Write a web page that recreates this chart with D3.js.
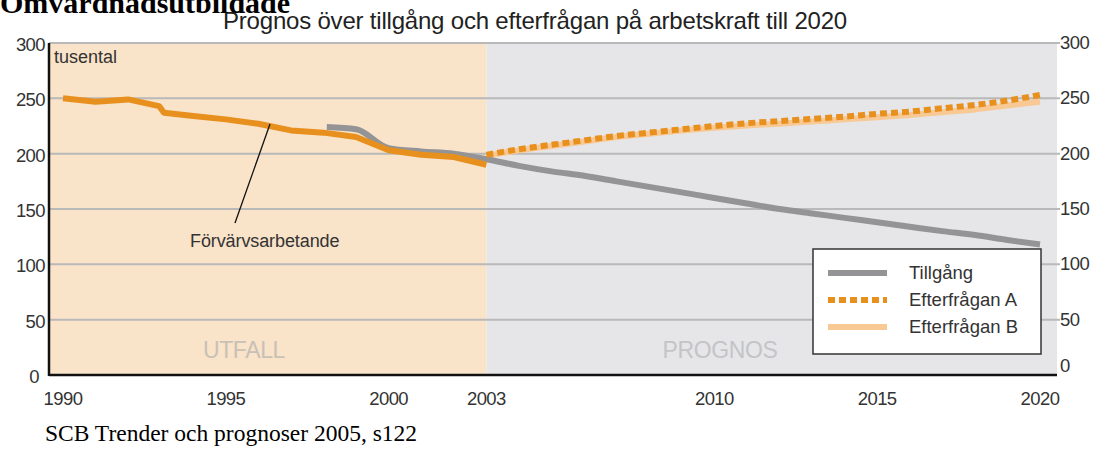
<!DOCTYPE html>
<html>
<head>
<meta charset="utf-8">
<script src="https://cdn.jsdelivr.net/npm/d3@7"></script>
<style>
  body { margin: 0; background: #fff; }
  svg { display: block; font-family: "Liberation Sans", Arial, sans-serif; }
  .serif { font-family: "Liberation Serif", "Times New Roman", serif; }
</style>
</head>
<body>
<div id="chart"></div>
<script>
// data (tusental)
const outcomeYears = [1990, 1991, 1992, 1992.95, 1993.1, 1994, 1995, 1996, 1997, 1998, 1999, 2000, 2001, 2002, 2003];
const outcomeValues = [250, 247, 249, 243, 237, 234, 231, 227, 221, 219, 215, 203, 199, 197, 190];

const supplyYears = [1998.1, 1999, 2000, 2001, 2002, 2003, 2004, 2005, 2006, 2007, 2008, 2009, 2010, 2011, 2012, 2013, 2014, 2015, 2016, 2017, 2018, 2019, 2020];
const supplyValues = [224, 222, 205, 202, 200, 195, 189, 184, 180, 175, 170, 165, 160, 155, 150, 146, 142, 138, 134, 130, 126.5, 122, 118];

const demandYears = [2003, 2004, 2005, 2006, 2007, 2008, 2009, 2010, 2011, 2012, 2013, 2014, 2015, 2016, 2017, 2018, 2019, 2020];
const demandA = [199, 204, 208, 212, 216, 219, 222, 225, 227.5, 229.5, 231.5, 233.5, 236, 238, 241, 244, 248, 253];
const demandB = [198, 203, 207, 211, 215, 218, 221, 223.5, 225.5, 227, 229, 231, 233, 235, 237.5, 240, 243.5, 247];

const xTicks = [1990, 1995, 2000, 2003, 2010, 2015, 2020];
const yTicks = [0, 50, 100, 150, 200, 250, 300];
const legendLabels = ["Tillgång", "Efterfrågan A", "Efterfrågan B"];

const width = 1096;
const height = 450;
const splitYear = 2003;

const xScale = d3.scaleLinear().domain([1990, 2020]).range([63, 1040]);
const yScale = d3.scaleLinear().domain([0, 300]).range([375, 43]);
const plotLeft = 49;
const plotRight = 1057;

const svg = d3.select('#chart')
    .append('svg')
        .attr('width', width)
        .attr('height', height);

// backgrounds
svg.append('rect')
    .attr('x', plotLeft)
    .attr('y', yScale(300))
    .attr('width', xScale(splitYear) - plotLeft)
    .attr('height', yScale(0) - yScale(300))
    .attr('fill', '#f9e3c9');
svg.append('rect')
    .attr('x', xScale(splitYear))
    .attr('y', yScale(300))
    .attr('width', plotRight - xScale(splitYear))
    .attr('height', yScale(0) - yScale(300))
    .attr('fill', '#e6e6e9');

// gridlines
svg.append('g')
    .selectAll('line')
    .data(yTicks.filter(d => d > 0))
    .enter()
        .append('line')
            .attr('x1', plotLeft)
            .attr('x2', plotRight + 3)
            .attr('y1', d => yScale(d))
            .attr('y2', d => yScale(d))
            .attr('stroke', '#b9b9b9')
            .attr('stroke-width', 2);

// UTFALL / PROGNOS
svg.append('text')
    .attr('x', 244)
    .attr('y', 358)
    .attr('text-anchor', 'middle')
    .attr('font-size', 23)
    .attr('letter-spacing', -0.4)
    .attr('fill', '#c9c0b6')
    .text('UTFALL');
svg.append('text')
    .attr('x', 720)
    .attr('y', 358)
    .attr('text-anchor', 'middle')
    .attr('font-size', 23)
    .attr('letter-spacing', -0.4)
    .attr('fill', '#c4c4c6')
    .text('PROGNOS');

// axes lines
svg.append('line')
    .attr('x1', plotLeft).attr('x2', plotLeft)
    .attr('y1', yScale(300)).attr('y2', yScale(0) + 1)
    .attr('stroke', '#111').attr('stroke-width', 2.5);
svg.append('line')
    .attr('x1', plotLeft).attr('x2', plotRight)
    .attr('y1', yScale(0)).attr('y2', yScale(0))
    .attr('stroke', '#111').attr('stroke-width', 2.5);

// y tick labels, left and right (the 0 sits a little off in the original)
svg.append('g')
    .selectAll('text')
    .data(yTicks)
    .enter()
        .append('text')
            .attr('x', d => d === 0 ? 39 : 45)
            .attr('y', d => yScale(d) + 8)
            .attr('text-anchor', 'end')
            .attr('font-size', 18.5)
            .attr('letter-spacing', -0.6)
            .attr('fill', '#333')
            .text(d => d);
svg.append('g')
    .selectAll('text')
    .data(yTicks)
    .enter()
        .append('text')
            .attr('x', 1060)
            .attr('y', d => yScale(d) + (d === 0 ? -3 : 6))
            .attr('font-size', 18.5)
            .attr('letter-spacing', -0.6)
            .attr('fill', '#333')
            .text(d => d);

// x tick labels
svg.append('g')
    .selectAll('text')
    .data(xTicks)
    .enter()
        .append('text')
            .attr('x', d => xScale(d))
            .attr('y', 405)
            .attr('text-anchor', 'middle')
            .attr('font-size', 18.5)
            .attr('letter-spacing', -0.6)
            .attr('fill', '#333')
            .text(d => d);

const line = d3.line()
    .x(d => xScale(d[0]))
    .y(d => yScale(d[1]));
const smooth = d3.line()
    .x(d => xScale(d[0]))
    .y(d => yScale(d[1]))
    .curve(d3.curveMonotoneX);

// Efterfrågan B
svg.append('path')
    .attr('d', smooth(d3.zip(demandYears, demandB)))
    .attr('fill', 'none')
    .attr('stroke', '#f8c995')
    .attr('stroke-width', 6);

// Tillgång
svg.append('path')
    .attr('d', smooth(d3.zip(supplyYears, supplyValues)))
    .attr('fill', 'none')
    .attr('stroke', '#949496')
    .attr('stroke-width', 6);

// Förvärvsarbetande
svg.append('path')
    .attr('d', line(d3.zip(outcomeYears, outcomeValues)))
    .attr('fill', 'none')
    .attr('stroke', '#e8901e')
    .attr('stroke-width', 6)
    .attr('stroke-linejoin', 'round');

// Efterfrågan A
svg.append('path')
    .attr('d', smooth(d3.zip(demandYears, demandA)))
    .attr('fill', 'none')
    .attr('stroke', '#e8901e')
    .attr('stroke-width', 6)
    .attr('stroke-dasharray', '7,4');

// annotation
svg.append('line')
    .attr('x1', 270).attr('y1', 124)
    .attr('x2', 235).attr('y2', 223)
    .attr('stroke', '#111')
    .attr('stroke-width', 1.3);
svg.append('text')
    .attr('x', 190)
    .attr('y', 247)
    .attr('font-size', 18)
    .attr('letter-spacing', -0.1)
    .attr('fill', '#333')
    .text('Förvärvsarbetande');

svg.append('text')
    .attr('x', 54)
    .attr('y', 63)
    .attr('font-size', 18)
    .attr('fill', '#333')
    .text('tusental');

// legend
const legend = svg.append('g').attr('transform', 'translate(813, 249)');
legend.append('rect')
    .attr('width', 228)
    .attr('height', 105)
    .attr('fill', '#fff')
    .attr('stroke', '#333')
    .attr('stroke-width', 1.5);
const legendStyles = [
    {stroke: '#949496', dash: null},
    {stroke: '#e8901e', dash: '7,4'},
    {stroke: '#f8c995', dash: null}
];
legendLabels.forEach((label, i) => {
    const y = 24 + i * 27;
    legend.append('line')
        .attr('x1', 15).attr('x2', 74)
        .attr('y1', y).attr('y2', y)
        .attr('stroke', legendStyles[i].stroke)
        .attr('stroke-width', 6)
        .attr('stroke-dasharray', legendStyles[i].dash);
    legend.append('text')
        .attr('x', 96)
        .attr('y', y + 6)
        .attr('font-size', 18.5)
        .attr('fill', '#333')
        .text(label);
});

// titles
svg.append('text')
    .attr('x', 535)
    .attr('y', 29)
    .attr('text-anchor', 'middle')
    .attr('font-size', 24)
    .attr('letter-spacing', -0.2)
    .attr('fill', '#222')
    .text('Prognos över tillgång och efterfrågan på arbetskraft till 2020');

// heading cut by the top edge, as in the source image
svg.append('text')
    .attr('class', 'serif')
    .attr('x', 0)
    .attr('y', 13)
    .attr('font-weight', 'bold')
    .attr('font-size', 30)
    .attr('fill', '#000')
    .text('Omvårdnadsutbildade');

svg.append('text')
    .attr('class', 'serif')
    .attr('x', 45)
    .attr('y', 441)
    .attr('font-size', 23.5)
    .attr('fill', '#000')
    .text('SCB Trender och prognoser 2005, s122');
</script>
</body>
</html>
